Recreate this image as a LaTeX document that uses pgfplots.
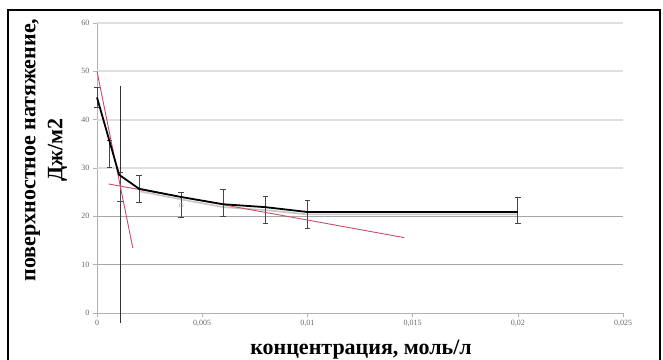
\documentclass[border=0pt]{standalone}
\usepackage{pgfplots}
\pgfplotsset{compat=1.18}
\usepackage{fontspec}
\setmainfont{Liberation Serif}
\definecolor{tang}{RGB}{196,80,104}
\definecolor{ebar}{RGB}{70,70,70}
\begin{document}
\begin{tikzpicture}
\useasboundingbox (0pt,0pt) rectangle (663pt,359pt);
\draw[line width=1.8pt] (8pt,-20pt) -- (8pt,349pt) -- (660pt,349pt) -- (660pt,-20pt);
\begin{axis}[
  at={(97pt,46pt)}, anchor=south west,
  width=526pt, height=290pt, scale only axis,
  xmin=0, xmax=0.025, ymin=0, ymax=60,
  scaled x ticks=false,
  axis x line*=bottom, axis y line*=left,
  axis line style={gray!60, line width=0.6pt},
  xtick={0,0.005,0.01,0.015,0.02,0.025},
  xticklabels={0,{0,005},{0,01},{0,015},{0,02},{0,025}},
  ytick={0,10,20},
  extra y ticks={30,40,50,60},
  extra y tick style={grid=major, major grid style={line width=2.2pt, gray!25}},
  ymajorgrids, major grid style={line width=0.6pt, gray!70},
  tick align=outside, major tick length=4pt,
  tick style={gray!60, line width=0.6pt},
  /pgf/number format/assume math mode=true,
  ticklabel style={font=\fontsize{8}{9}\selectfont, text=gray!80!black},
  clip=false,
  xlabel={концентрация, моль/л},
  ylabel={поверхностное натяжение,\\Дж/м2},
  xlabel style={at={(axis description cs:0.502,-0.125)}, anchor=center, font=\bfseries\fontsize{22}{27}\selectfont},
  ylabel style={at={(axis description cs:-0.097,0.562)}, anchor=center, align=center, font=\bfseries\fontsize{22}{27}\selectfont},
]
% vertical line
\addplot[black!80, line width=1.2pt] coordinates {(0.00113,47) (0.00113,-2)};
% shadow line
\addplot[gray!45, line width=1.6pt] coordinates {(0.002,25.2) (0.004,23.5) (0.006,21.9) (0.008,21.3) (0.01,20.4) (0.02,20.4)};
% error bars
\addplot[draw=none, mark=none,
  error bars/.cd, y dir=both, y explicit,
  error bar style={ebar, line width=0.8pt},
  error mark options={rotate=90, mark size=2.8pt, line width=0.8pt, ebar}]
  coordinates {
  (0,44.6) +- (0,2)
  (0.0006,33) +- (0,2.8)
  (0.0011,26) +- (0,3)
  (0.002,25.6) +- (0,2.8)
  (0.004,22.3) +- (0,2.6)
  (0.006,22.7) +- (0,2.8)
  (0.008,21.4) +- (0,2.8)
  (0.01,20.4) +- (0,2.8)
  (0.02,21.3) +- (0,2.7)
  };
% tangent lines
\addplot[tang, line width=0.9pt] coordinates {(0,50) (0.0017,13.5)};
\addplot[tang, line width=0.9pt] coordinates {(0.00055,26.7) (0.0146,15.6)};
% main curve
\addplot[black, line width=1.8pt] coordinates {(0,44.6) (0.00105,28.6) (0.002,25.7) (0.004,24) (0.006,22.5) (0.008,21.9) (0.01,20.9) (0.02,20.9)};
\addplot[only marks, mark=o, mark size=2pt, gray!70, mark options={fill=white}] coordinates {(0.004,22.3)};
\end{axis}
\end{tikzpicture}
\end{document}
